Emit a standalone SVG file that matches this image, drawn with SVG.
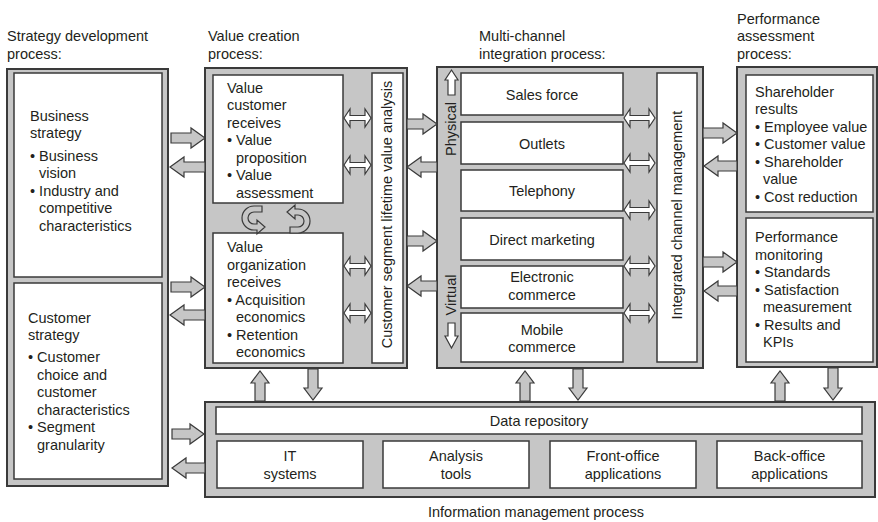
<svg xmlns="http://www.w3.org/2000/svg" width="878" height="522" viewBox="0 0 878 522">
<style>
text{font-family:"Liberation Sans",Arial,sans-serif;font-size:14.5px;fill:#231f20}
.c{text-anchor:middle}
.panel{fill:#c6c6c6;stroke:#3a3a3a;stroke-width:2}
.box{fill:#fff;stroke:#3a3a3a;stroke-width:1.5}
.ga{fill:#c6c6c6;stroke:#3a3a3a;stroke-width:1.2;stroke-linejoin:miter}
.wa{fill:#fff;stroke:#3a3a3a;stroke-width:1.2}
</style>
<rect width="878" height="522" fill="#fff"/>

<!-- titles -->
<g id="titles">
<text x="7" y="41">Strategy development</text>
<text x="7" y="58.5">process:</text>
<text x="208" y="41">Value creation</text>
<text x="208" y="58.5">process:</text>
<text x="479" y="41">Multi-channel</text>
<text x="479" y="58.5">integration process:</text>
<text x="737" y="24">Performance</text>
<text x="737" y="41">assessment</text>
<text x="737" y="58.5">process:</text>
<text x="428" y="517">Information management process</text>
</g>

<!-- panels -->
<g id="strategy-panel"><rect class="panel" x="7" y="69" width="161" height="417"/></g>
<g id="value-panel"><rect class="panel" x="205" y="68" width="202" height="300"/></g>
<g id="mc-panel"><rect class="panel" x="437" y="67" width="266" height="301"/></g>
<g id="perf-panel"><rect class="panel" x="737" y="67" width="140" height="300"/></g>
<g id="im-panel"><rect class="panel" x="205" y="402" width="670" height="95"/></g>

<!-- strategy -->
<g id="business-strategy">
<rect class="box" x="14" y="73" width="148" height="204"/>
<text x="30" y="120.5">Business</text>
<text x="30" y="138">strategy</text>
<text x="30" y="160.5">• Business</text>
<text x="39" y="178">vision</text>
<text x="30" y="195.5">• Industry and</text>
<text x="39" y="213">competitive</text>
<text x="39" y="230.5">characteristics</text>
</g>
<g id="customer-strategy">
<rect class="box" x="14" y="283" width="148" height="196"/>
<text x="28" y="322.5">Customer</text>
<text x="28" y="340">strategy</text>
<text x="28" y="362">• Customer</text>
<text x="37" y="379.5">choice and</text>
<text x="37" y="397">customer</text>
<text x="37" y="414.5">characteristics</text>
<text x="28" y="432">• Segment</text>
<text x="37" y="449.5">granularity</text>
</g>

<!-- value creation -->
<g id="value-customer">
<rect class="box" x="213" y="75" width="130" height="128"/>
<text x="227" y="92.5">Value</text>
<text x="227" y="110">customer</text>
<text x="227" y="127.5">receives</text>
<text x="227" y="145">• Value</text>
<text x="236" y="162.5">proposition</text>
<text x="227" y="180">• Value</text>
<text x="236" y="197.5">assessment</text>
</g>
<g id="value-organization">
<rect class="box" x="213" y="233" width="130" height="130"/>
<text x="227" y="252">Value</text>
<text x="227" y="269.5">organization</text>
<text x="227" y="287">receives</text>
<text x="227" y="304.5">• Acquisition</text>
<text x="236" y="322">economics</text>
<text x="227" y="339.5">• Retention</text>
<text x="236" y="357">economics</text>
</g>
<g id="lifetime-value">
<rect class="box" x="372" y="73" width="31" height="290"/>
<text class="c" transform="translate(387,214.5) rotate(-90)" x="0" y="5">Customer segment lifetime value analysis</text>
</g>
<g id="cycle-arrows">
<path class="ga" d="M262,206 L254,206 A12,12 0 0 0 254,230 L257,230 L257,234 L265,227 L257,220 L257,224 L254,224 A6,6 0 0 1 254,212 L262,212 Z"/>
<path class="ga" d="M290,233 L298,233 A12,12 0 0 0 298,209 L295,209 L295,205 L287,212 L295,219 L295,215 L298,215 A6,6 0 0 1 298,227 L290,227 Z"/>
</g>

<!-- multi-channel -->
<g id="physical-label">
<path class="wa" d="M448,95 V80 H445 L451.5,70 L458,80 H455 V95 Z"/>
<text class="c" transform="translate(450,129) rotate(-90)" x="0" y="5.5">Physical</text>
</g>
<g id="virtual-label">
<text class="c" transform="translate(450,295) rotate(-90)" x="0" y="5.5">Virtual</text>
<path class="wa" d="M448,323 V336 H445 L451.5,348 L458,336 H455 V323 Z"/>
</g>
<g id="sales-force"><rect class="box" x="461" y="73" width="162" height="42"/><text class="c" x="542" y="100">Sales force</text></g>
<g id="outlets"><rect class="box" x="461" y="122" width="162" height="42"/><text class="c" x="542" y="149">Outlets</text></g>
<g id="telephony"><rect class="box" x="461" y="170" width="162" height="41"/><text class="c" x="542" y="196">Telephony</text></g>
<g id="direct-marketing"><rect class="box" x="461" y="218" width="162" height="42"/><text class="c" x="542" y="244.5">Direct marketing</text></g>
<g id="electronic-commerce"><rect class="box" x="461" y="266" width="162" height="42"/><text class="c" x="542" y="282">Electronic</text><text class="c" x="542" y="299.5">commerce</text></g>
<g id="mobile-commerce"><rect class="box" x="461" y="313" width="162" height="49"/><text class="c" x="542" y="334.5">Mobile</text><text class="c" x="542" y="352">commerce</text></g>
<g id="integrated-channel">
<rect class="box" x="657" y="73" width="40" height="289"/>
<text class="c" transform="translate(677,215) rotate(-90)" x="0" y="5">Integrated channel management</text>
</g>

<!-- performance -->
<g id="shareholder-results">
<rect class="box" x="746" y="75" width="127" height="137"/>
<text x="755" y="96.5">Shareholder</text>
<text x="755" y="114">results</text>
<text x="755" y="131.5">• Employee value</text>
<text x="755" y="149">• Customer value</text>
<text x="755" y="166.5">• Shareholder</text>
<text x="763" y="184">value</text>
<text x="755" y="201.5">• Cost reduction</text>
</g>
<g id="performance-monitoring">
<rect class="box" x="746" y="218" width="127" height="144"/>
<text x="755" y="242">Performance</text>
<text x="755" y="259.5">monitoring</text>
<text x="755" y="277">• Standards</text>
<text x="755" y="294.5">• Satisfaction</text>
<text x="763" y="312">measurement</text>
<text x="755" y="329.5">• Results and</text>
<text x="763" y="347">KPIs</text>
</g>

<!-- information management -->
<g id="data-repository"><rect class="box" x="216" y="407" width="646" height="27"/><text class="c" x="539" y="425.5">Data repository</text></g>
<g id="it-systems"><rect class="box" x="217" y="441" width="146" height="47"/><text class="c" x="290" y="461">IT</text><text class="c" x="290" y="478.5">systems</text></g>
<g id="analysis-tools"><rect class="box" x="383" y="441" width="146" height="47"/><text class="c" x="456" y="461">Analysis</text><text class="c" x="456" y="478.5">tools</text></g>
<g id="front-office"><rect class="box" x="550" y="441" width="146" height="47"/><text class="c" x="623" y="461">Front-office</text><text class="c" x="623" y="478.5">applications</text></g>
<g id="back-office"><rect class="box" x="717" y="441" width="145" height="47"/><text class="c" x="789.5" y="461">Back-office</text><text class="c" x="789.5" y="478.5">applications</text></g>

<!-- connectors -->
<g id="connectors">
<path class="ga" d="M171,133 H191 V128 L205,138 L191,148 V143 H171 Z"/>
<path class="ga" d="M205,162 H184 V157 L170,167 L184,177 V172 H205 Z"/>
<path class="ga" d="M171,282 H191 V277 L205,287 L191,297 V292 H171 Z"/>
<path class="ga" d="M205,310 H184 V305 L170,315 L184,325 V320 H205 Z"/>
<path class="ga" d="M407,119 H423 V114 L437,124 L423,134 V129 H407 Z"/>
<path class="ga" d="M437,162 H421 V157 L407,167 L421,177 V172 H437 Z"/>
<path class="ga" d="M407,236 H423 V231 L437,241 L423,251 V246 H407 Z"/>
<path class="ga" d="M437,281 H421 V276 L407,286 L421,296 V291 H437 Z"/>
<path class="ga" d="M703,128 H723 V123 L737,133 L723,143 V138 H703 Z"/>
<path class="ga" d="M737,161 H718 V156 L704,166 L718,176 V171 H737 Z"/>
<path class="ga" d="M703,257 H723 V252 L737,262 L723,272 V267 H703 Z"/>
<path class="ga" d="M737,286 H718 V281 L704,291 L718,301 V296 H737 Z"/>
<path class="ga" d="M172,429 H190 V424 L204,434 L190,444 V439 H172 Z"/>
<path class="ga" d="M205,463 H186 V458 L172,468 L186,478 V473 H205 Z"/>
<path class="ga" d="M255,401 V383 H251 L260,371 L269,383 H265 V401 Z"/>
<path class="ga" d="M308,369 V388 H304 L313,400 L322,388 H318 V369 Z"/>
<path class="ga" d="M520,401 V383 H516 L525,371 L534,383 H530 V401 Z"/>
<path class="ga" d="M573,369 V388 H569 L578,400 L587,388 H583 V369 Z"/>
<path class="ga" d="M775,401 V383 H771 L780,371 L789,383 H785 V401 Z"/>
<path class="ga" d="M828,368 V388 H824 L833,400 L842,388 H838 V368 Z"/>
<path class="wa" d="M344,118 L350,109 V115.5 H365 V109 L371,118 L365,127 V120.5 H350 V127 Z"/>
<path class="wa" d="M344,165 L350,156 V162.5 H365 V156 L371,165 L365,174 V167.5 H350 V174 Z"/>
<path class="wa" d="M344,266 L350,257 V263.5 H365 V257 L371,266 L365,275 V268.5 H350 V275 Z"/>
<path class="wa" d="M344,313 L350,304 V310.5 H365 V304 L371,313 L365,322 V315.5 H350 V322 Z"/>
<path class="wa" d="M624,118 L630,109 V115.5 H649 V109 L655,118 L649,127 V120.5 H630 V127 Z"/>
<path class="wa" d="M624,163 L630,154 V160.5 H649 V154 L655,163 L649,172 V165.5 H630 V172 Z"/>
<path class="wa" d="M624,210 L630,201 V207.5 H649 V201 L655,210 L649,219 V212.5 H630 V219 Z"/>
<path class="wa" d="M624,266 L630,257 V263.5 H649 V257 L655,266 L649,275 V268.5 H630 V275 Z"/>
<path class="wa" d="M624,313 L630,304 V310.5 H649 V304 L655,313 L649,322 V315.5 H630 V322 Z"/>
</g>
</svg>
